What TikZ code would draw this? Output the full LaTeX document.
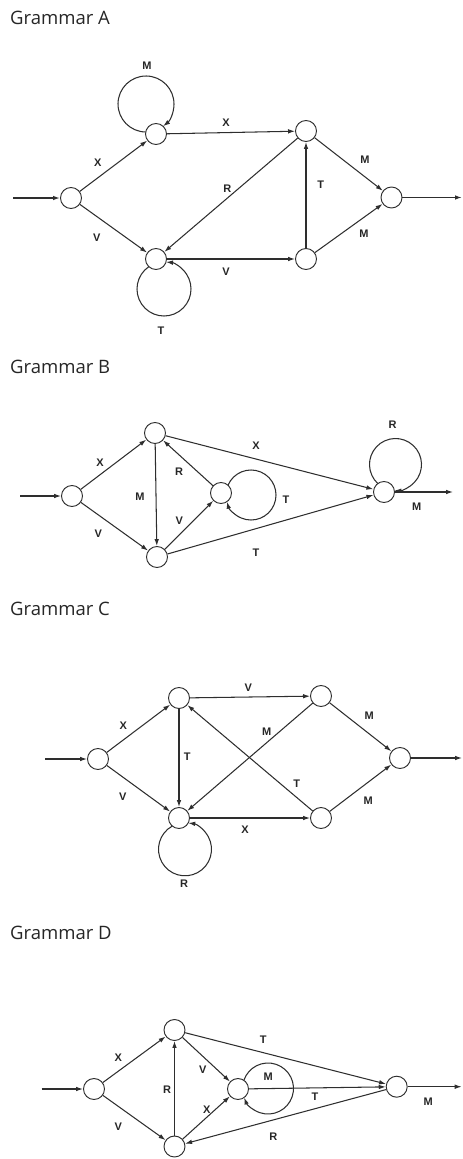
\documentclass[tikz,border=0pt]{standalone}
\usepackage{fontspec}
\setmainfont{Open Sans}
\newfontfamily\lblfont{Liberation Sans}
\usetikzlibrary{arrows.meta}
\tikzset{
  st/.style={circle, draw=black!82, line width=0.95pt, minimum size=21pt, inner sep=0pt},
  edge/.style={draw=black!82, line width=1.05pt, -{Latex[length=7pt,width=4.6pt]}},
  thickedge/.style={edge, line width=1.5pt},
  lbl/.style={font=\lblfont\bfseries\fontsize{11}{13}\selectfont, inner sep=0pt, text=black!85},
  ttl/.style={font=\fontsize{18.5}{22}\selectfont, anchor=base west, inner sep=0pt, text=black!85},
}
\def\noderad{10.5}
% self-loop drawn as a circle arc: node centre (#1,#2), loop centre (#3,#4),
% loop radius #5, sense #6 (+1 clockwise on screen, -1 anticlockwise)
\newcommand\gloop[6]{%
  \pgfmathsetmacro\gdx{#3-#1}%
  \pgfmathsetmacro\gdy{#4-#2}%
  \pgfmathsetmacro\gd{veclen(\gdx,\gdy)}%
  \pgfmathsetmacro\gb{atan2(\gdy,\gdx)+180}%
  \pgfmathsetmacro\ga{acos((\gd*\gd+#5*#5-\noderad*\noderad)/(2*\gd*#5))}%
  \pgfmathsetmacro\gs{\gb+#6*\ga}%
  \pgfmathsetmacro\ge{\gb-#6*\ga+#6*360}%
  \draw[edge] (#3,#4) ++(\gs:#5) arc[start angle=\gs, end angle=\ge, radius=#5];%
}
\begin{document}
\begin{tikzpicture}[x=1pt,y=-1pt]
\useasboundingbox (0,0) rectangle (463,1159);

% ---------------- Grammar A ----------------
\node[ttl] (ta) at (10,24) {Grammar A};
\node[st] (a0) at (71,198) {};
\node[st] (a1) at (156,134) {};
\node[st] (a2) at (156,259) {};
\node[st] (a3) at (306,131) {};
\node[st] (a4) at (306,259) {};
\node[st] (a5) at (391.5,197.5) {};
\coordinate (ain) at (13,198);
\coordinate (aout) at (462,197.5);
\draw[thickedge] (ain) -- (a0);
\draw[edge] (a0) -- (a1);
\draw[edge] (a0) -- (a2);
\draw[edge] (a1) -- (a3);
\draw[edge] (a3) -- (a2);
\draw[edge] (a4) -- (a3);
\draw[edge] (a2) -- (a4);
\draw[edge] (a3) -- (a5);
\draw[edge] (a4) -- (a5);
\draw[thickedge] (a5) -- (aout);
\gloop{156}{134}{146}{104}{28}{1}
\gloop{156}{259}{164}{289}{27}{-1}
\node[lbl] (la1) at (97.7,162.7) {X};
\node[lbl] (la2) at (96.7,237.3) {V};
\node[lbl] (la3) at (226,122.7) {X};
\node[lbl] (la4) at (227.3,188.7) {R};
\node[lbl] (la5) at (320.7,184.3) {T};
\node[lbl] (la6) at (226,271.7) {V};
\node[lbl] (la7) at (365,159.3) {M};
\node[lbl] (la8) at (364,233.3) {M};
\node[lbl] (la9) at (147,66) {M};
\node[lbl] (la10) at (161,330.5) {T};

% ---------------- Grammar B ----------------
\node[ttl] (tb) at (10,373) {Grammar B};
\node[st] (b0) at (72,496) {};
\node[st] (b1) at (155,433) {};
\node[st] (b2) at (157,557) {};
\node[st] (b3) at (221,493) {};
\node[st] (b4) at (384,492) {};
\coordinate (bin) at (20,496);
\coordinate (bout) at (453,492);
\draw[edge] (bin) -- (b0);
\draw[edge] (b0) -- (b1);
\draw[edge] (b0) -- (b2);
\draw[edge] (b1) -- (b2);
\draw[edge] (b3) -- (b1);
\draw[edge] (b2) -- (b3);
\draw[edge] (b1) -- (b4);
\draw[edge] (b2) -- (b4);
\draw[edge] (b4) -- (bout);
\gloop{221}{493}{251}{495}{25}{1}
\gloop{384}{492}{395.5}{464.5}{26}{1}
\node[lbl] (lb1) at (100,462.7) {X};
\node[lbl] (lb2) at (98.3,533.3) {V};
\node[lbl] (lb3) at (140,496.7) {M};
\node[lbl] (lb4) at (179,471.7) {R};
\node[lbl] (lb5) at (179.3,521) {V};
\node[lbl] (lb6) at (256,446) {X};
\node[lbl] (lb7) at (256,552.3) {T};
\node[lbl] (lb8) at (286,499.3) {T};
\node[lbl] (lb9) at (392.7,425) {R};
\node[lbl] (lb10) at (416.7,506.7) {M};

% ---------------- Grammar C ----------------
\node[ttl] (tc) at (10,615) {Grammar C};
\node[st] (c0) at (98,759) {};
\node[st] (c1) at (179,698) {};
\node[st] (c2) at (179,818) {};
\node[st] (c3) at (321,696) {};
\node[st] (c4) at (321,818) {};
\node[st] (c5) at (400,758) {};
\coordinate (cin) at (45,759);
\coordinate (cout) at (462,758);
\draw[edge] (cin) -- (c0);
\draw[edge] (c0) -- (c1);
\draw[edge] (c0) -- (c2);
\draw[edge] (c1) -- (c3);
\draw[edge] (c1) -- (c2);
\draw[edge] (c3) -- (c2);
\draw[edge] (c4) -- (c1);
\draw[edge] (c2) -- (c4);
\draw[edge] (c3) -- (c5);
\draw[edge] (c4) -- (c5);
\draw[edge] (c5) -- (cout);
\gloop{179}{818}{185}{849.3}{26.5}{-1}
\node[lbl] (lc1) at (123.3,726) {X};
\node[lbl] (lc2) at (122.7,796.7) {V};
\node[lbl] (lc3) at (187.3,756.7) {T};
\node[lbl] (lc4) at (248.3,687.3) {V};
\node[lbl] (lc5) at (266.7,731.7) {M};
\node[lbl] (lc6) at (296.7,783.3) {T};
\node[lbl] (lc7) at (245,830) {X};
\node[lbl] (lc8) at (369.3,716) {M};
\node[lbl] (lc9) at (368.3,800.7) {M};
\node[lbl] (lc10) at (184,884) {R};

% ---------------- Grammar D ----------------
\node[ttl] (td) at (10,939) {Grammar D};
\node[st] (d0) at (94,1089) {};
\node[st] (d1) at (174.5,1030) {};
\node[st] (d2) at (174.5,1146.5) {};
\node[st] (d3) at (238,1089) {};
\node[st] (d4) at (396.7,1086.7) {};
\coordinate (din) at (41.7,1089);
\coordinate (dout) at (461.7,1086.7);
\draw[edge] (din) -- (d0);
\draw[edge] (d0) -- (d1);
\draw[edge] (d0) -- (d2);
\draw[edge] (d2) -- (d1);
\draw[edge] (d1) -- (d3);
\draw[edge] (d2) -- (d3);
\draw[edge] (d1) -- (d4);
\draw[edge] (d3) -- (d4);
\draw[edge] (d4) -- (d2);
\draw[edge] (d4) -- (dout);
\gloop{238}{1089}{268}{1088.5}{25.5}{1}
\node[lbl] (ld1) at (118.3,1057.7) {X};
\node[lbl] (ld2) at (118.3,1126.7) {V};
\node[lbl] (ld3) at (167,1089.3) {R};
\node[lbl] (ld4) at (202.7,1070) {V};
\node[lbl] (ld5) at (206.7,1110) {X};
\node[lbl] (ld6) at (263.3,1040) {T};
\node[lbl] (ld7) at (315,1096.7) {T};
\node[lbl] (ld8) at (273.3,1136.7) {R};
\node[lbl] (ld9) at (268.3,1076.7) {M};
\node[lbl] (ld10) at (428.3,1101.7) {M};
\end{tikzpicture}
\end{document}
